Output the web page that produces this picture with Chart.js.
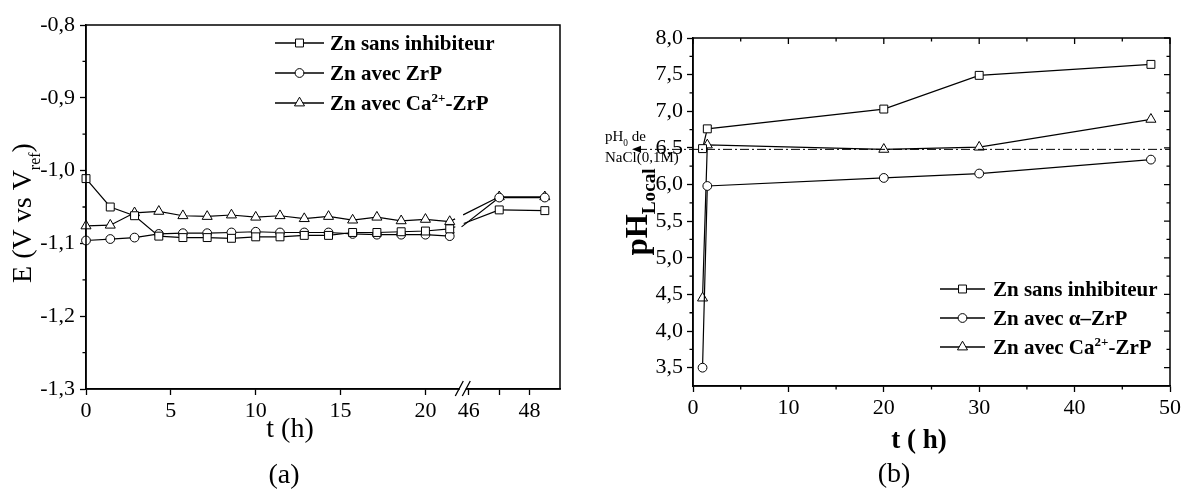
<!DOCTYPE html>
<html>
<head>
<meta charset="utf-8">
<script src="https://cdn.jsdelivr.net/npm/chart.js@4.4.0/dist/chart.umd.min.js"></script>
<style>
  html, body { margin: 0; padding: 0; background: #fff; }
  #wrap { position: relative; width: 1182px; height: 490px; }
  canvas { position: absolute; top: 0; }
  #chartA { left: 0; }
  #chartB { left: 590px; }
</style>
</head>
<body>
<div id="wrap">
  <canvas id="chartA" width="590" height="490"></canvas>
  <canvas id="chartB" width="592" height="490"></canvas>
</div>
<script>
// ---- (a) E vs t, axe coupé entre ~22 h et ~46 h ----
const hoursA = [0, 1.43, 2.86, 4.29, 5.71, 7.14, 8.57, 10, 11.43, 12.86, 14.29, 15.71, 17.14, 18.57, 20, 21.43, 47, 48.5];
const eSans  = [-1.011, -1.050, -1.062, -1.090, -1.092, -1.092, -1.093, -1.091, -1.091, -1.089, -1.089, -1.085, -1.085, -1.084, -1.083, -1.080, -1.054, -1.055];
const eZrP   = [-1.096, -1.094, -1.092, -1.087, -1.086, -1.086, -1.085, -1.084, -1.085, -1.085, -1.085, -1.087, -1.088, -1.088, -1.088, -1.090, -1.037, -1.037];
const eCaZrP = [-1.076, -1.075, -1.058, -1.056, -1.062, -1.063, -1.061, -1.064, -1.062, -1.066, -1.063, -1.068, -1.064, -1.069, -1.067, -1.070, -1.036, -1.036];
const tickHoursA  = [0, 5, 10, 15, 20, 46, 47, 48];
const tickLabelsA = ['0', '5', '10', '15', '20', '46', '', '48'];
const namesA = ['Zn sans inhibiteur', 'Zn avec ZrP', 'Zn avec Ca^{2+}-ZrP'];

// ---- (b) pH local vs t ----
const hoursB = [1, 1.5, 20, 30, 48];
const phSans     = [6.49, 6.76, 7.03, 7.49, 7.64];
const phAlphaZrP = [3.50, 5.98, 6.09, 6.15, 6.34];
const phCaZrP    = [4.45, 6.54, 6.48, 6.51, 6.89];
const pH0 = 6.48;
const namesB = ['Zn sans inhibiteur', 'Zn avec \u03b1\u2013ZrP', 'Zn avec Ca^{2+}-ZrP'];

const styles = ['rect', 'circle', 'triangle'];
const radii = [5.6, 4.4, 5.8];
const serif = '"Liberation Serif", "Times New Roman", serif';

// broken axis: 0–22.2 h kept as is, 45.8–49 h stretched after the cut
const cutLow = 22.2, cutHigh = 45.8, stretch = 1.79, endA = 49;
function brk(t) { return t <= cutLow ? t : cutLow + (t - cutHigh) * stretch; }

function parseRich(str) {
  const out = [];
  const re = /([\^_])\{([^}]*)\}/g;
  let last = 0, m;
  while ((m = re.exec(str))) {
    if (m.index > last) out.push({ t: str.slice(last, m.index), k: '' });
    out.push({ t: m[2], k: m[1] });
    last = re.lastIndex;
  }
  if (last < str.length) out.push({ t: str.slice(last), k: '' });
  return out;
}

function drawRich(ctx, str, x, y, o) {
  const parts = parseRich(str);
  const small = o.size * (o.small || 0.62);
  let w = 0;
  parts.forEach(p => {
    ctx.font = `${o.weight || 'normal'} ${p.k ? small : o.size}px ${serif}`;
    p.w = ctx.measureText(p.t).width;
    w += p.w;
  });
  let cx = o.align === 'center' ? x - w / 2 : x;
  ctx.fillStyle = '#000';
  ctx.textAlign = 'left';
  ctx.textBaseline = 'alphabetic';
  parts.forEach(p => {
    ctx.font = `${o.weight || 'normal'} ${p.k ? small : o.size}px ${serif}`;
    const dy = p.k === '^' ? -o.size * 0.4 : p.k === '_' ? o.size * (o.subDy || 0.3) : 0;
    ctx.fillText(p.t, cx, y + dy);
    cx += p.w;
  });
}

function drawRotated(ctx, str, x, y, o) {
  ctx.save();
  ctx.translate(x, y);
  ctx.rotate(-Math.PI / 2);
  drawRich(ctx, str, 0, 0, Object.assign({ align: 'center' }, o));
  ctx.restore();
}

// extra tick marks, len > 0 points outward, len < 0 inward
function edgeTicks(chart, edge, values, len) {
  const { ctx, chartArea: a } = chart;
  const vertical = edge === 'left' || edge === 'right';
  const s = vertical ? chart.scales.y : chart.scales.x;
  ctx.save();
  ctx.strokeStyle = '#000';
  ctx.lineWidth = 1.3;
  ctx.beginPath();
  values.forEach(v => {
    const p = s.getPixelForValue(v);
    if (edge === 'left')   { ctx.moveTo(a.left, p);   ctx.lineTo(a.left - len, p); }
    if (edge === 'right')  { ctx.moveTo(a.right, p);  ctx.lineTo(a.right + len, p); }
    if (edge === 'top')    { ctx.moveTo(p, a.top);    ctx.lineTo(p, a.top - len); }
    if (edge === 'bottom') { ctx.moveTo(p, a.bottom); ctx.lineTo(p, a.bottom + len); }
  });
  ctx.stroke();
  ctx.restore();
}

function frame(chart) {
  const { ctx, chartArea: a } = chart;
  ctx.save();
  ctx.strokeStyle = '#000';
  ctx.lineWidth = 1.5;
  ctx.strokeRect(a.left, a.top, a.right - a.left, a.bottom - a.top);
  ctx.restore();
}

function legendRows(ctx, names, x1, x2, xText, y0, gap) {
  names.forEach((name, i) => {
    const y = y0 + i * gap;
    ctx.save();
    ctx.strokeStyle = '#000';
    ctx.lineWidth = 1.3;
    ctx.beginPath();
    ctx.moveTo(x1, y);
    ctx.lineTo(x2, y);
    ctx.stroke();
    ctx.fillStyle = '#fff';
    ctx.lineWidth = 1;
    Chart.helpers.drawPoint(ctx, { pointStyle: styles[i], radius: radii[i], rotation: 0, borderWidth: 1 }, (x1 + x2) / 2, y);
    ctx.restore();
    drawRich(ctx, name, xText, y + 7, { size: 21, weight: 'bold' });
  });
}

function series(values, hours, i, mapX) {
  return {
    data: hours.map((t, k) => ({ x: mapX(t), y: values[k] })),
    borderColor: '#000',
    borderWidth: 1.2,
    pointStyle: styles[i],
    pointRadius: radii[i],
    pointBackgroundColor: '#fff',
    pointBorderColor: '#000',
    pointBorderWidth: 1,
    tension: 0,
    clip: false
  };
}

const tickFont = { family: serif, size: 22 };
const comma = v => Number(v).toFixed(1).replace('.', ',');

// ---------------- chart (a) ----------------
const dsA = [eSans, eZrP, eCaZrP].map((vals, i) => {
  const d = series(vals, hoursA, i, brk);
  d.segment = {
    borderDash: c => (c.p0.parsed.x <= cutLow && c.p1.parsed.x > cutLow) ? [6, 9, 300] : undefined
  };
  return d;
});

const decoA = {
  id: 'decoA',
  afterDraw(chart) {
    const { ctx, chartArea: a } = chart;
    frame(chart);
    edgeTicks(chart, 'left', [-0.85, -0.95, -1.05, -1.15, -1.25], 3.5);
    // axis break marks
    const xb = chart.scales.x.getPixelForValue(cutLow);
    const yb = a.bottom;
    ctx.save();
    ctx.fillStyle = '#fff';
    ctx.fillRect(xb - 3, yb - 2, 6, 4);
    ctx.strokeStyle = '#000';
    ctx.lineWidth = 1.3;
    ctx.beginPath();
    [-3.5, 3.5].forEach(d => {
      ctx.moveTo(xb + d - 4, yb + 7);
      ctx.lineTo(xb + d + 4, yb - 8);
    });
    ctx.stroke();
    ctx.restore();
    // titles
    drawRotated(ctx, 'E (V vs V_{ref})', 31, 213, { size: 28, small: 0.57, subDy: 0.32 });
    drawRich(ctx, 't (h)', 290, 437, { size: 28, align: 'center' });
    drawRich(ctx, '(a)', 284, 483, { size: 28, align: 'center' });
    legendRows(ctx, namesA, 275, 324, 330, 43, 30);
  }
};

new Chart(document.getElementById('chartA'), {
  type: 'line',
  data: { datasets: dsA },
  options: {
    responsive: false,
    animation: false,
    layout: { padding: { top: 25, right: 30, bottom: 0, left: 0 } },
    plugins: { legend: { display: false }, tooltip: { enabled: false } },
    scales: {
      x: {
        type: 'linear',
        min: 0,
        max: brk(endA),
        afterBuildTicks: s => { s.ticks = tickHoursA.map(t => ({ value: brk(t) })); },
        afterFit: s => { s.height = 101; s.paddingLeft = 0; s.paddingRight = 0; },
        ticks: {
          callback: (v, i) => tickLabelsA[i],
          autoSkip: false, maxRotation: 0, padding: 3,
          color: '#000', font: tickFont
        },
        grid: { drawOnChartArea: false, drawTicks: true, tickLength: 6, tickColor: '#000', tickWidth: 1.3 },
        border: { color: '#000', width: 1.5 }
      },
      y: {
        min: -1.3,
        max: -0.8,
        afterFit: s => { s.width = 86; s.paddingTop = 0; s.paddingBottom = 0; },
        ticks: { stepSize: 0.1, callback: comma, padding: 5, color: '#000', font: tickFont },
        grid: { drawOnChartArea: false, drawTicks: true, tickLength: 6, tickColor: '#000', tickWidth: 1.3 },
        border: { color: '#000', width: 1.5 }
      }
    }
  },
  plugins: [decoA]
});

// ---------------- chart (b) ----------------
const dsB = [phSans, phAlphaZrP, phCaZrP].map((vals, i) => series(vals, hoursB, i, t => t));

const decoB = {
  id: 'decoB',
  afterDraw(chart) {
    const { ctx, chartArea: a } = chart;
    frame(chart);
    const yMinor = [3.75, 4.25, 4.75, 5.25, 5.75, 6.25, 6.75, 7.25, 7.75];
    const yMajor = [3.5, 4, 4.5, 5, 5.5, 6, 6.5, 7, 7.5, 8];
    const xMajor = [0, 10, 20, 30, 40, 50];
    const xMinor = [5, 15, 25, 35, 45];
    edgeTicks(chart, 'left', yMinor, 3.5);
    edgeTicks(chart, 'right', yMajor, -6);
    edgeTicks(chart, 'right', yMinor, -3.5);
    edgeTicks(chart, 'top', xMajor, -6);
    edgeTicks(chart, 'top', xMinor, -3.5);
    edgeTicks(chart, 'bottom', xMinor, 3.5);
    // reference pH of NaCl 0,1 M
    const yr = chart.scales.y.getPixelForValue(pH0);
    const tip = a.left - 61;
    ctx.save();
    ctx.strokeStyle = '#000';
    ctx.lineWidth = 1;
    ctx.setLineDash([9, 3, 2, 3]);
    ctx.beginPath();
    ctx.moveTo(tip + 6, yr);
    ctx.lineTo(a.right, yr);
    ctx.stroke();
    ctx.setLineDash([]);
    ctx.fillStyle = '#000';
    ctx.beginPath();
    ctx.moveTo(tip, yr);
    ctx.lineTo(tip + 9, yr - 3.5);
    ctx.lineTo(tip + 9, yr + 3.5);
    ctx.closePath();
    ctx.fill();
    ctx.restore();
    drawRich(ctx, 'pH_{0} de', 15, yr - 8, { size: 15, subDy: 0.3 });
    drawRich(ctx, 'NaCl(0,1M)', 15, yr + 13, { size: 15 });
    // titles
    drawRotated(ctx, 'pH_{Local}', 57, 212, { size: 31, weight: 'bold', small: 0.62, subDy: 0.25 });
    drawRich(ctx, 't ( h)', 329, 448, { size: 27, weight: 'bold', align: 'center' });
    drawRich(ctx, '(b)', 304, 482, { size: 28, align: 'center' });
    legendRows(ctx, namesB, 350, 395, 403, 289, 29);
  }
};

new Chart(document.getElementById('chartB'), {
  type: 'line',
  data: { datasets: dsB },
  options: {
    responsive: false,
    animation: false,
    layout: { padding: { top: 38, right: 12, bottom: 0, left: 0 } },
    plugins: { legend: { display: false }, tooltip: { enabled: false } },
    scales: {
      x: {
        type: 'linear',
        min: 0,
        max: 50,
        afterFit: s => { s.height = 104; s.paddingLeft = 0; s.paddingRight = 0; },
        ticks: { stepSize: 10, autoSkip: false, maxRotation: 0, padding: 3, color: '#000', font: tickFont },
        grid: { drawOnChartArea: false, drawTicks: true, tickLength: 6, tickColor: '#000', tickWidth: 1.3 },
        border: { color: '#000', width: 1.5 }
      },
      y: {
        min: 3.25,
        max: 8,
        afterFit: s => { s.width = 103; s.paddingTop = 0; s.paddingBottom = 0; },
        ticks: { stepSize: 0.5, includeBounds: false, callback: comma, padding: 4, color: '#000', font: tickFont },
        grid: { drawOnChartArea: false, drawTicks: true, tickLength: 6, tickColor: '#000', tickWidth: 1.3 },
        border: { color: '#000', width: 1.5 }
      }
    }
  },
  plugins: [decoB]
});
</script>
</body>
</html>
